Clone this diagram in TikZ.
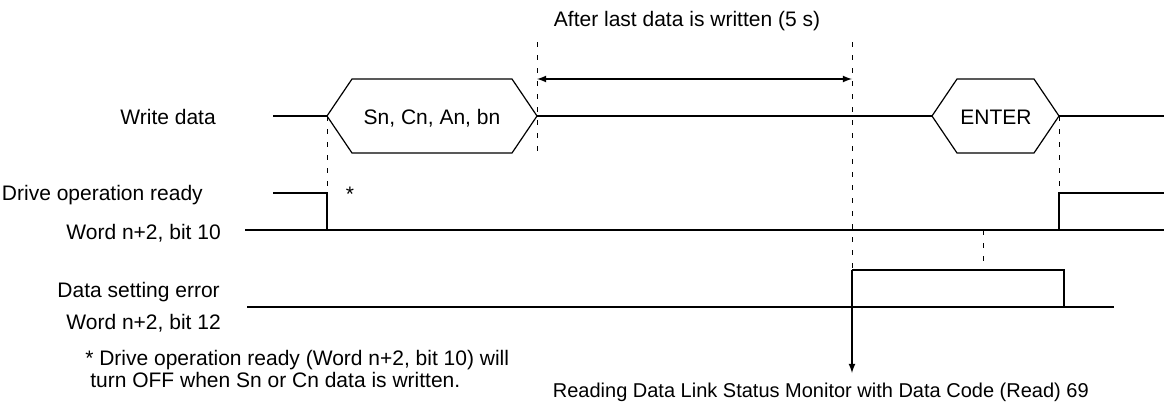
\documentclass[tikz,border=0pt]{standalone}
\usepackage{fontspec}
\setmainfont{Liberation Sans}

\begin{document}
\begin{tikzpicture}[x=0.5pt, y=-0.5pt, line width=0.6pt,
    font=\fontsize{10.5}{12.6}\selectfont,
    guide/.style={line width=0.5pt, dash pattern=on 2.5pt off 4pt},
    sig/.style={line width=0.6pt}]
  \useasboundingbox (0,0) rectangle (1164,407);

  % 写入数据：两段六边形数据块
  \coordinate (Wa)  at (273,116);
  \coordinate (Sl)  at (327,116);
  \coordinate (Sr)  at (537,116);
  \coordinate (El)  at (932,116);
  \coordinate (Er)  at (1059,116);
  \coordinate (We)  at (1164,116);

  \draw[sig] (Wa) -- (Sl);
  \draw[sig] (Sl) -- (352,79) -- (512,79) -- (Sr) -- (512,153) -- (352,153) -- cycle;
  \draw[sig] (Sr) -- (El);
  \draw[sig] (El) -- (957,79) -- (1034,79) -- (Er) -- (1034,153) -- (957,153) -- cycle;
  \draw[sig] (Er) -- (We);

  % 运行准备完毕（bit 10）
  \coordinate (Dh)  at (273,193);
  \coordinate (Df)  at (327,193);
  \coordinate (Dd)  at (327,230);
  \coordinate (Dl)  at (245,230);
  \coordinate (Dle) at (1164,230);
  \coordinate (Dr)  at (1059,230);
  \coordinate (Dru) at (1059,193);
  \coordinate (Dhe) at (1164,193);

  \draw[sig] (Dh) -- (Df) -- (Dd);
  \draw[sig] (Dl) -- (Dle);
  \draw[sig] (Dr) -- (Dru) -- (Dhe);

  % 数据设定错误（bit 12）
  \coordinate (Ea)  at (247,307);
  \coordinate (Ee)  at (1114,307);
  \coordinate (Pu)  at (852,270);
  \coordinate (Pv)  at (1064,270);
  \coordinate (Pd)  at (1064,307);
  \coordinate (Rd)  at (852,373);

  \draw[sig] (Ea) -- (Ee);
  \draw[sig] (Pu) -- (Pv) -- (Pd);
  \draw[sig, -latex] (Pu) -- (Rd);

  % 虚线与 5 s 区间
  \coordinate (Ta)  at (537,42);
  \coordinate (Tb)  at (852,42);
  \draw[guide] (Ta) -- (537,155);
  \draw[guide] (Tb) -- (Pu);
  \draw[guide] (Sl) -- (Df);
  \draw[guide] (Er) -- (Dru);
  \draw[guide] (983,230) -- (983,270);
  \draw[sig, latex-latex] (537,79) -- (852,79);

  \node[anchor=base] (tm) at (687,26) {After last data is written (5 s)};
  \node[anchor=base] (sd) at (432,124) {Sn, Cn, An, bn};
  \node[anchor=base] (en) at (996,124) {ENTER};

  \node[anchor=base east] (wd)  at (223,124) {Write data};
  \node[anchor=base east] (dr)  at (210,200) {Drive operation ready};
  \node[anchor=base east] (w10) at (228,239) {Word n+2, bit 10};
  \node[anchor=base east] (de)  at (227,297) {Data setting error};
  \node[anchor=base east] (w12) at (228,329) {Word n+2, bit 12};
  \node[anchor=base] (ast) at (350,201) {*};

  \node[anchor=base west] (fn1) at (78,365) {* Drive operation ready (Word n+2, bit 10) will};
  \node[anchor=base west] (fn2) at (83,387) {turn OFF when Sn or Cn data is written.};
  \node[anchor=base east, font=\fontsize{10}{12}\selectfont] (rd) at (1096,397)
    {Reading Data Link Status Monitor with Data Code (Read) 69};
\end{tikzpicture}
\end{document}
